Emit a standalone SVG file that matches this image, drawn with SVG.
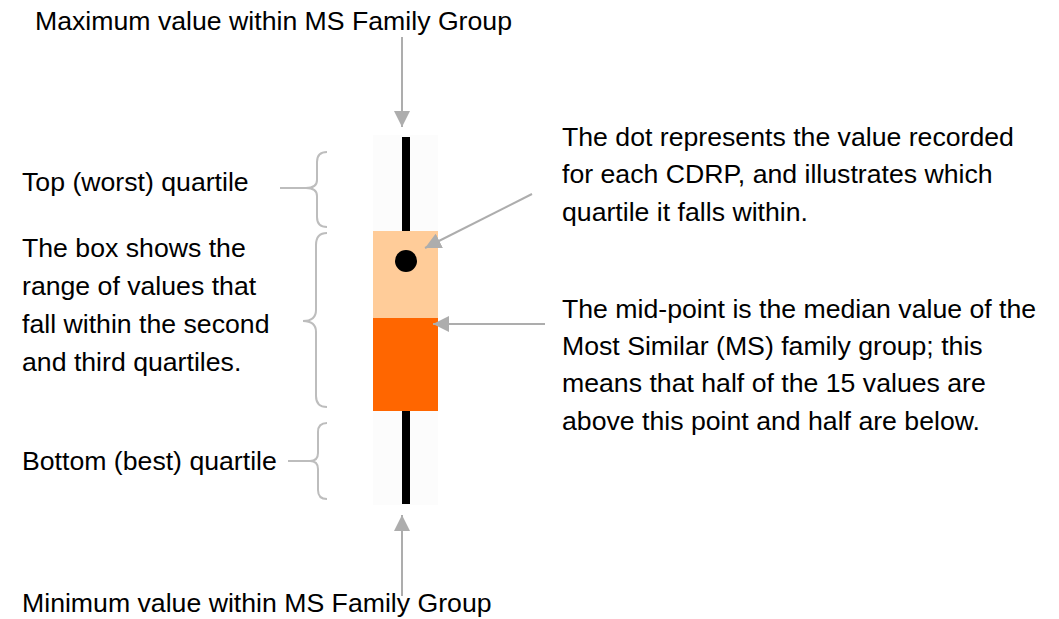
<svg xmlns="http://www.w3.org/2000/svg" width="1059" height="619" viewBox="0 0 1059 619">
<style>
text{font-family:"Liberation Sans",Arial,sans-serif;font-size:26.67px;fill:#000}
.arr{stroke:#ADADAD;stroke-width:2;fill:none}
.brace{stroke:#BDBDBD;stroke-width:2;fill:none}
</style>
<defs>
<marker id="ah" markerWidth="8" markerHeight="8" refX="8" refY="4" orient="auto" markerUnits="userSpaceOnUse" viewBox="0 0 8 8">
<path d="M0,0 L8,4 L0,8 Z" fill="#ADADAD"/>
</marker>
<marker id="ahb" viewBox="0 0 16 16" refX="16" refY="8" markerWidth="16" markerHeight="16" orient="auto" markerUnits="userSpaceOnUse">
<path d="M0,0 L16,8 L0,16 Z" fill="#ADADAD"/>
</marker>
</defs>
<rect width="1059" height="619" fill="#fff"/>
<g id="boxplot">
<rect x="373" y="135" width="65" height="370" fill="#FCFCFC"/>
<rect x="402" y="137" width="8" height="94" fill="#000"/>
<rect x="373" y="231" width="65" height="87" fill="#FFCC99"/>
<rect x="373" y="318" width="65" height="93" fill="#FF6600"/>
<rect x="402" y="411" width="8" height="93" fill="#000"/>
<circle cx="406" cy="261" r="11" fill="#000"/>
</g>
<g id="connectors">
<line class="arr" x1="402" y1="37" x2="402" y2="127" marker-end="url(#ahb)"/>
<line class="arr" x1="402" y1="596" x2="402" y2="515" marker-end="url(#ahb)"/>
<line class="arr" x1="532" y1="194" x2="425" y2="248" marker-end="url(#ahb)"/>
<line class="arr" x1="545" y1="324" x2="433" y2="324" marker-end="url(#ahb)"/>
<path class="brace" d="M327,152 Q317,152 317,162 L317,180 Q317,188 306,188 Q317,188 317,196 L317,217 Q317,227 327,227"/>
<line class="brace" x1="280" y1="188" x2="306" y2="188"/>
<path class="brace" d="M327,233 Q316,233 316,245 L316,310 Q316,321 303,321 Q316,321 316,332 L316,396 Q316,407 327,407"/>
<path class="brace" d="M327,423 Q318,423 318,432 L318,453 Q318,461 310,461 Q318,461 318,469 L318,490 Q318,499 327,499"/>
<line class="brace" x1="288" y1="461" x2="310" y2="461"/>
</g>
<g id="label-max"><text x="35" y="30">Maximum value within MS Family Group</text></g>
<g id="label-min"><text x="22" y="612">Minimum value within MS Family Group</text></g>
<g id="label-top"><text x="22" y="191">Top (worst) quartile</text></g>
<g id="label-bottom"><text x="22" y="470">Bottom (best) quartile</text></g>
<g id="label-box">
<text x="22" y="257">The box shows the</text>
<text x="22" y="295">range of values that</text>
<text x="22" y="333">fall within the second</text>
<text x="22" y="371">and third quartiles.</text>
</g>
<g id="label-dot">
<text x="562" y="146">The dot represents the value recorded</text>
<text x="562" y="183">for each CDRP, and illustrates which</text>
<text x="562" y="221">quartile it falls within.</text>
</g>
<g id="label-mid">
<text x="562" y="318">The mid-point is the median value of the</text>
<text x="562" y="355">Most Similar (MS) family group; this</text>
<text x="562" y="392">means that half of the 15 values are</text>
<text x="562" y="430">above this point and half are below.</text>
</g>
</svg>
